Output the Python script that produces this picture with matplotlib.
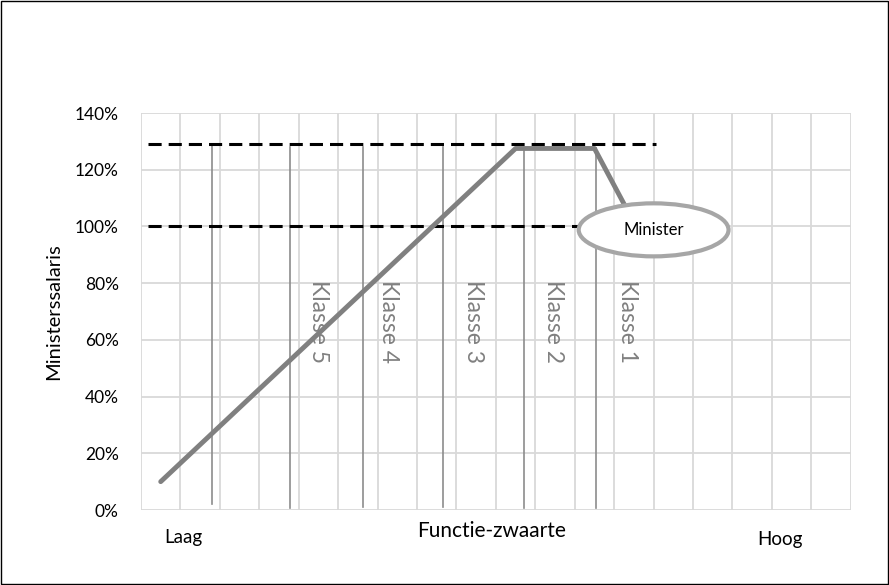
import matplotlib
matplotlib.use('Agg')
import matplotlib.pyplot as plt
from matplotlib.patches import Ellipse, Rectangle
from matplotlib.ticker import MultipleLocator, FuncFormatter

plt.rcParams['font.family'] = ['Lato', 'DejaVu Sans']

# salaris als functie van de functie-zwaarte
salary_x = [0.5, 9.5, 11.5, 12.4]
salary_y = [10, 127.5, 127.5, 104]

# grenzen tussen de klassen
klasse_x = [1.8, 3.78, 5.63, 7.67, 9.71, 11.53]
klasse_bottom = [2, 0.6, 1.2, 1.0, 0.8, 0.8]
klasse_top = [129, 128, 128, 128, 127.5, 127.5]

klasse_labels = ['Klasse 5', 'Klasse 4', 'Klasse 3', 'Klasse 2', 'Klasse 1']
klasse_label_x = [4.5, 6.27, 8.43, 10.47, 12.33]

# referentielijnen (100% en max)
ref_levels = [129, 100]
ref_start = [0.18, 0.18]
ref_end = [13.05, 13.0]

fig = plt.figure(figsize=(8.89, 5.85), dpi=100)
ax = fig.add_axes([0.1586, 0.1282, 0.957 - 0.1586, 0.8068 - 0.1282])

ax.set_xlim(0, 18)
ax.set_ylim(0, 140)
ax.xaxis.set_major_locator(MultipleLocator(1))
ax.yaxis.set_major_locator(MultipleLocator(20))
ax.yaxis.set_major_formatter(FuncFormatter(lambda v, p: f'{int(v)}%'))
ax.set_xticklabels([])
ax.tick_params(axis='both', length=0)
ax.tick_params(axis='y', labelsize=12.5, pad=16)
for s in ax.spines.values():
    s.set_visible(False)
ax.grid(True, color='#d9d9d9', lw=1.3)
ax.set_axisbelow(True)

for x, b, t in zip(klasse_x, klasse_bottom, klasse_top):
    ax.plot([x, x], [b, t], color='#8c8c8c', lw=1.2, zorder=2)

for lvl, x0, x1 in zip(ref_levels, ref_start, ref_end):
    ax.plot([x0, x1], [lvl, lvl], color='black', lw=2.2,
            dashes=(4.3, 2.3), zorder=3)

ax.plot(salary_x, salary_y, color='#808080', lw=3.5, solid_capstyle='round',
        zorder=4)

for lab, x in zip(klasse_labels, klasse_label_x):
    ax.text(x, 81, lab, rotation=270, ha='center', va='top',
            fontsize=16.5, color='#808080', zorder=5)

ell = Ellipse((13.0, 98.8), 3.8, 18.7, facecolor='white',
              edgecolor='#a6a6a6', lw=3, zorder=6)
ax.add_patch(ell)
ax.text(13.0, 98.8, 'Minister', ha='center', va='center', fontsize=12,
        color='black', zorder=7)

ax.set_ylabel('Ministerssalaris', fontsize=14.5, labelpad=9)
fig.text(183 / 889, 1 - 538 / 585, 'Laag', ha='center', va='center',
         fontsize=13.5)
fig.text(492 / 889, 1 - 531 / 585, 'Functie-zwaarte', ha='center',
         va='center', fontsize=15)
fig.text(780 / 889, 1 - 539 / 585, 'Hoog', ha='center', va='center',
         fontsize=13.5)

fig.patches.append(Rectangle((0.0006, 0.001), 0.9985, 0.998,
                             transform=fig.transFigure, fill=False,
                             edgecolor='black', lw=1))

fig.savefig('out.png', dpi=100)
